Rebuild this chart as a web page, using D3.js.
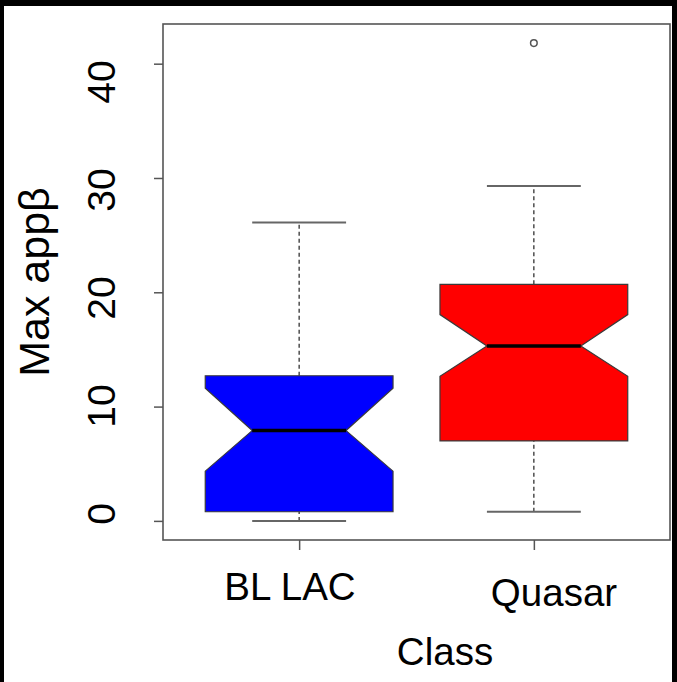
<!DOCTYPE html>
<html>
<head>
<meta charset="utf-8">
<script src="https://cdn.jsdelivr.net/npm/d3@7"></script>
<style>
  html, body { margin: 0; padding: 0; background: #000; }
  svg { display: block; }
  text { font-family: "Liberation Sans", Arial, sans-serif; fill: #000; }
</style>
</head>
<body>
<svg id="chart" width="677" height="682"></svg>
<script>
// Notched boxplot of maximum apparent speed by source class
const categories   = ["BL LAC", "Quasar"];
const whiskerLow   = [0.0, 0.8];
const boxLow       = [0.8, 7.0];
const medians      = [7.9, 15.3];
const boxHigh      = [12.7, 20.7];
const whiskerHigh  = [26.1, 29.3];
const notchLow     = [4.35, 12.65];
const notchHigh    = [11.6, 18.05];
const outliers     = [[], [41.8]];
const fillColors   = ["#0000ff", "#ff0000"];
const yTicks       = [0, 10, 20, 30, 40];
const yTitle       = "Max appβ";
const xTitle       = "Class";

const svg = d3.select("#chart");
const W = 677, H = 682;

// white page inside the dark frame
svg.append("rect").attr("x", 4).attr("y", 6).attr("width", 668).attr("height", H - 6).attr("fill", "#fff");

const plot = { left: 163, top: 24, right: 670, bottom: 540 };

// R-style padded ranges
const dataMin = d3.min(whiskerLow), dataMax = d3.max(outliers.flat().concat(whiskerHigh));
const pad = (dataMax - dataMin) * 0.04;
const y = d3.scaleLinear().domain([dataMin - pad, dataMax + pad]).range([plot.bottom, plot.top]);
const x = d3.scaleLinear().domain([0.42, 2.58]).range([plot.left, plot.right]);

// text placement for the axis annotations
const yLabelPos = d3.scaleLinear().domain([0, 40]).range([514, 82]);
const xLabelPos = d3.scaleLinear().domain([1, 2]).range([290, 554]);
const xLabelBase = d3.scaleLinear().domain([1, 2]).range([600, 606]);

const half = 0.4, notchHalf = 0.2, capHalf = 0.2;
const lineCol = "#3a3a3a";

categories.forEach((c, i) => {
  const pos = i + 1;
  // dashed whiskers
  [[whiskerLow[i], boxLow[i]], [boxHigh[i], whiskerHigh[i]]].forEach(([a, b]) => {
    svg.append("line")
      .attr("x1", x(pos)).attr("x2", x(pos))
      .attr("y1", y(a)).attr("y2", y(b))
      .attr("stroke", "#222").attr("stroke-width", 1.2)
      .attr("stroke-dasharray", "4,3");
  });
  // whisker caps
  [whiskerLow[i], whiskerHigh[i]].forEach(v => {
    svg.append("line")
      .attr("x1", x(pos - capHalf)).attr("x2", x(pos + capHalf))
      .attr("y1", y(v)).attr("y2", y(v))
      .attr("stroke", "#666").attr("stroke-width", 2);
  });
  // notched box
  const pts = [
    [pos - half, boxLow[i]],
    [pos - half, notchLow[i]],
    [pos - notchHalf, medians[i]],
    [pos - half, notchHigh[i]],
    [pos - half, boxHigh[i]],
    [pos + half, boxHigh[i]],
    [pos + half, notchHigh[i]],
    [pos + notchHalf, medians[i]],
    [pos + half, notchLow[i]],
    [pos + half, boxLow[i]]
  ];
  svg.append("path")
    .attr("d", d3.line().x(d => x(d[0])).y(d => y(d[1]))(pts) + "Z")
    .attr("fill", fillColors[i])
    .attr("stroke", lineCol).attr("stroke-width", 1.2)
    .attr("stroke-linejoin", "miter");
  // median
  svg.append("line")
    .attr("x1", x(pos - notchHalf)).attr("x2", x(pos + notchHalf))
    .attr("y1", y(medians[i])).attr("y2", y(medians[i]))
    .attr("stroke", "#000").attr("stroke-width", 3.5);
  // outliers
  outliers[i].forEach(v => {
    svg.append("circle")
      .attr("cx", x(pos)).attr("cy", y(v)).attr("r", 3.3)
      .attr("fill", "none").attr("stroke", "#555").attr("stroke-width", 1.5);
  });
});

// plot frame
svg.append("rect")
  .attr("x", plot.left).attr("y", plot.top)
  .attr("width", plot.right - plot.left).attr("height", plot.bottom - plot.top)
  .attr("fill", "none").attr("stroke", "#555").attr("stroke-width", 1.6);

// y axis ticks
const yAxis = d3.axisLeft(y).tickValues(yTicks).tickSize(9).tickFormat("");
svg.append("g").attr("transform", `translate(${plot.left},0)`).call(yAxis)
  .call(g => g.select(".domain").remove())
  .call(g => g.selectAll("line").attr("stroke", "#555").attr("stroke-width", 1.5));

// x axis ticks
const xAxis = d3.axisBottom(x).tickValues([1, 2]).tickSize(10).tickFormat("");
svg.append("g").attr("transform", `translate(0,${plot.bottom})`).call(xAxis)
  .call(g => g.select(".domain").remove())
  .call(g => g.selectAll("line").attr("stroke", "#555").attr("stroke-width", 1.5));

// y tick labels, rotated as in base graphics
yTicks.forEach(t => {
  svg.append("text")
    .attr("transform", `translate(115,${yLabelPos(t)}) rotate(-90)`)
    .attr("text-anchor", "middle")
    .attr("font-size", 39)
    .text(t);
});

// category labels
categories.forEach((c, i) => {
  svg.append("text")
    .attr("x", xLabelPos(i + 1)).attr("y", xLabelBase(i + 1))
    .attr("text-anchor", "middle")
    .attr("font-size", 38.5)
    .text(c);
});

// axis titles
svg.append("text")
  .attr("transform", "translate(49,282) rotate(-90)")
  .attr("text-anchor", "middle")
  .attr("font-size", 43)
  .text(yTitle);

svg.append("text")
  .attr("x", 445).attr("y", 665)
  .attr("text-anchor", "middle")
  .attr("font-size", 38.5)
  .text(xTitle);
</script>
</body>
</html>
